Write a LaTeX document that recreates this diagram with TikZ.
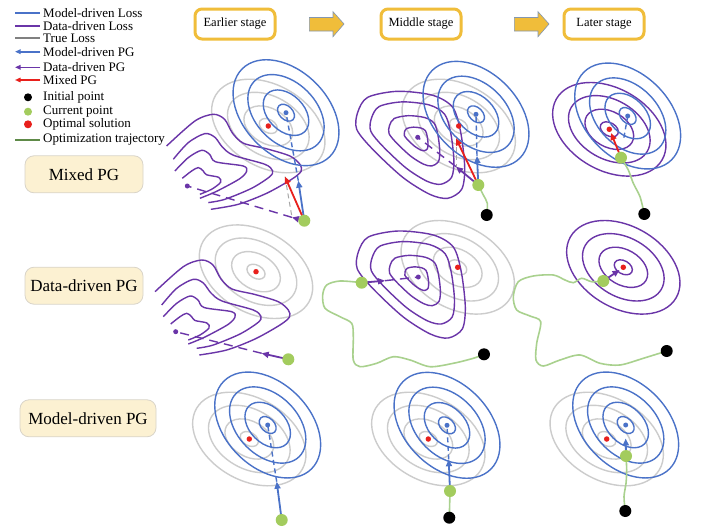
\documentclass[tikz,border=0pt]{standalone}
\usepackage{fontspec}
\setmainfont{Liberation Serif}
\usetikzlibrary{arrows.meta}
\definecolor{mblue}{HTML}{4A72C8}
\definecolor{dpurple}{HTML}{6A35A8}
\definecolor{tgrey}{HTML}{CCCCCC}
\definecolor{lgrey}{HTML}{808080}
\definecolor{ored}{HTML}{E8201C}
\definecolor{cgreen}{HTML}{A3CC5E}
\definecolor{tgreen}{HTML}{A9D18E}
\definecolor{legtraj}{HTML}{5E8A48}
\definecolor{gold}{HTML}{F0BD3A}
\definecolor{cream}{HTML}{FCF1D2}
\definecolor{creamborder}{HTML}{D9D4C8}
\definecolor{arrowedge}{HTML}{8497B0}
\newcommand{\myrings}[5]{%
  \foreach \s in {1,0.72,0.43,0.16}{\draw[#1,shift={#2},rotate=#3] (0,0) ellipse ({#4*\s} and {#5*\s});}}
\newcommand{\purpleearly}{%
  \draw[pu] plot[smooth] coordinates {(155,291.7) (183.3,266.7) (201.7,260) (213,265) (221,279) (232,289) (255,294.5) (278.3,301.7) (288.3,310) (289.5,317) (280,325) (255,339) (226.7,350) (199.3,355)};
  \draw[pu] plot[smooth] coordinates {(161.7,305) (176.7,288.3) (193.3,279.3) (203.3,283) (211,293) (222,301) (253.3,310) (261,316.5) (258,322.5) (240,334) (213.3,345) (196.7,348.3)};
  \draw[pu] plot[smooth] coordinates {(163.3,316.7) (176.7,303.3) (190,296) (198,300) (204,307.5) (231.7,311.7) (235,317) (228,324.5) (205,337) (188.3,344)};
  \draw[pu] plot[smooth] coordinates {(170.7,324) (180,316.7) (186.7,313.3) (191.5,316.5) (195,320.5) (207,323) (209,328) (200,335) (188.3,340)};}
\newcommand{\purpleblob}[1]{%
  \foreach \s in {1,0.77,0.47,0.22}{\draw[pu,shift={#1},scale=\s] plot[smooth cycle] coordinates {(-60,-25) (-50,-40) (-20,-46) (15,-42) (35,-30) (43,-5) (47,30) (44,52) (30,61) (12,57) (-15,40) (-45,12) (-61,-8)};}}
\begin{document}
\begin{tikzpicture}[x=1pt,y=-1pt,
  bl/.style={draw=mblue,line width=1.4pt},
  pu/.style={draw=dpurple,line width=1.4pt},
  gr/.style={draw=tgrey,line width=1.4pt},
  traj/.style={draw=tgreen,line width=1.6pt},
  arr/.style={line width=1.8pt,-{Triangle[length=7pt,width=6pt]}},
  legarr/.style={line width=1.6pt,-{Triangle[length=5.5pt,width=4.5pt]}},
  legline/.style={line width=2pt},
  dsh/.style={dash pattern=on 5pt off 3.5pt},
  pdsh/.style={draw=dpurple,line width=1.4pt,dash pattern=on 9pt off 6pt},
  ini/.style={circle,fill=black,inner sep=0,minimum size=12pt},
  cur/.style={circle,fill=cgreen,inner sep=0,minimum size=12pt},
  opt/.style={circle,fill=ored,inner sep=0,minimum size=5.5pt},
  bdot/.style={circle,fill=mblue,inner sep=0,minimum size=5pt},
  pdot/.style={circle,fill=dpurple,inner sep=0,minimum size=5pt},
  stage/.style={draw=gold,line width=3pt,rounded corners=7pt,minimum width=80pt,minimum height=30pt,fill=white,font=\fontsize{12.5}{14}\selectfont},
  rowlab/.style={draw=creamborder,fill=cream,line width=0.8pt,rounded corners=9pt,minimum width=118pt,minimum height=37pt,font=\fontsize{17}{20}\selectfont},
  legtext/.style={anchor=west,inner sep=0,font=\fontsize{13}{15}\selectfont},
  blockarrow/.style={fill=gold,draw=arrowedge,line width=0.6pt}]
\useasboundingbox (0,0) rectangle (720,530);
\fill[white] (0,0) rectangle (720,530);

% ---------- legend ----------
\foreach \n/\y in {1/12.7,2/25.7,3/38.3,4/51.7,5/67.3,6/80,7/97.3,8/111.7,9/124.3,10/140}{
  \coordinate (lL\n) at (15,\y); \coordinate (lR\n) at (40,\y); \coordinate (lM\n) at (28,\y);}
\draw[legline,draw=mblue] (lL1) -- (lR1);
\draw[legline,draw=dpurple] (lL2) -- (lR2);
\draw[legline,draw=lgrey] (lL3) -- (lR3);
\draw[legarr,draw=mblue,fill=mblue] (lR4) -- (lL4);
\draw[legarr,draw=dpurple,fill=dpurple] (lR5) -- (lL5);
\draw[legarr,draw=ored,fill=ored] (lR6) -- (lL6);
\node[circle,fill=black,inner sep=0,minimum size=8pt] (lp7) at (lM7) {};
\node[circle,fill=cgreen,inner sep=0,minimum size=8pt] (lp8) at (lM8) {};
\node[circle,fill=ored,inner sep=0,minimum size=8pt] (lp9) at (lM9) {};
\draw[legline,draw=legtraj,line width=1.5pt] (lL10) -- (lR10);
\node[legtext] (t1) at (43,12.7) {Model-driven Loss};
\node[legtext] (t2) at (43,25.7) {Data-driven Loss};
\node[legtext] (t3) at (43,38.3) {True Loss};
\node[legtext] (t4) at (43,51.7) {Model-driven PG};
\node[legtext] (t5) at (43,67.3) {Data-driven PG};
\node[legtext] (t6) at (43,80) {Mixed PG};
\node[legtext] (t7) at (43,97.3) {Initial point};
\node[legtext] (t8) at (43,111.7) {Current point};
\node[legtext] (t9) at (43,124.3) {Optimal solution};
\node[legtext] (t10) at (43,140) {Optimization trajectory};

% ---------- header ----------
\node[stage] (s1) at (235,24) {Earlier stage};
\node[stage] (s2) at (421,24) {Middle stage};
\node[stage] (s3) at (604,24) {Later stage};
\foreach \dx in {0,205}{
  \draw[blockarrow,shift={(\dx,0)}] (309.3,17.5) -- (333,17.5) -- (333,11.7) -- (344,24) -- (333,36.7) -- (333,31) -- (309.3,31) -- cycle;}

% ---------- row labels ----------
\node[rowlab] (r1) at (84,174.3) {Mixed PG};
\node[rowlab] (r2) at (84,285.7) {Data-driven PG};
\node[rowlab,minimum width=136pt] (r3) at (88,418.3) {Model-driven PG};

% ================= Mixed PG =================
% earlier
\coordinate (meg) at (304.3,220.7);
\coordinate (meb) at (286,112.7);
\coordinate (mer) at (268.3,126);
\coordinate (mep) at (187.3,186);
\coordinate (mebt) at (298.3,180.7);
\coordinate (mert) at (285,176.7);
\coordinate (mept) at (292,217.4);
\myrings{gr}{(mer)}{-30}{61}{41}
\begin{scope}[shift={(11.6,-145.7)}]\purpleearly\end{scope}
\myrings{bl}{(meb)}{-45}{62}{42}
\draw[bl,dsh] (mebt) -- (meb);
\draw[pdsh] (mept) -- (mep);
\draw[draw=gray!70,line width=1pt,dsh] (mert) -- (mept);
\draw[arr,draw=mblue,fill=mblue] (meg) -- (mebt);
\draw[arr,draw=ored,fill=ored] (meg) -- (mert);
\draw[arr,draw=dpurple,fill=dpurple] (meg) -- (mept);
\node[opt] (MEr) at (mer) {};
\node[bdot] (MEb) at (meb) {};
\node[pdot] (MEp) at (mep) {};
\node[cur] (MEg) at (meg) {};

% middle
\coordinate (mmg) at (478.3,185);
\coordinate (mmk) at (486.7,215);
\coordinate (mmb) at (476,114.3);
\coordinate (mmr) at (458.7,126);
\coordinate (mmp) at (417.7,137.3);
\coordinate (mmbt) at (477,156);
\coordinate (mmrt) at (456,138.3);
\coordinate (mmpt) at (456,166.7);
\myrings{gr}{(mmr)}{-30}{61}{41}
\purpleblob{(mmp)}
\myrings{bl}{(mmb)}{-45}{62}{42}
\draw[traj] plot[smooth] coordinates {(mmk) (487.3,203.3) (483.3,195) (mmg)};
\draw[bl,dsh] (mmbt) -- (mmb);
\draw[pdsh] (mmpt) -- (mmp);
\draw[draw=gray!70,line width=1pt,dsh] (mmrt) -- (mmpt);
\draw[arr,draw=mblue,fill=mblue] (mmg) -- (mmbt);
\draw[arr,draw=ored,fill=ored] (mmg) -- (mmrt);
\draw[arr,draw=dpurple,fill=dpurple] (mmg) -- (mmpt);
\node[opt] (MMr) at (mmr) {};
\node[bdot] (MMb) at (mmb) {};
\node[pdot] (MMp) at (mmp) {};
\node[cur] (MMg) at (mmg) {};
\node[ini] (MMk) at (mmk) {};

% later
\coordinate (mlg) at (621,157.7);
\coordinate (mlk) at (644.3,214);
\coordinate (mlb) at (627.7,116);
\coordinate (mlr) at (609.3,129.3);
\coordinate (mlrt) at (611,133);
\coordinate (mlbd) at (623.5,140);
\myrings{pu}{(mlr)}{-30}{61}{41}
\myrings{bl}{(mlb)}{-45}{62}{42}
\draw[traj] plot[smooth] coordinates {(mlk) (640,196.7) (633.3,183.3) (628.3,170) (mlg)};
\draw[bl,dsh] (mlb) -- (mlbd);
\draw[arr,draw=ored,fill=ored] (mlg) -- (mlrt);
\node[opt] (MLr) at (mlr) {};
\node[bdot] (MLb) at (mlb) {};
\node[cur] (MLg) at (mlg) {};
\node[ini] (MLk) at (mlk) {};

% ================= Data-driven PG =================
% earlier
\coordinate (der) at (256,271.7);
\coordinate (dep) at (175.7,331.7);
\coordinate (deg) at (288.3,359.3);
\coordinate (dept) at (261.7,353.3);
\myrings{gr}{(der)}{-30}{61}{41}
\purpleearly
\draw[pdsh] (dept) -- (dep);
\draw[arr,draw=dpurple,fill=dpurple] (deg) -- (dept);
\node[opt] (DEr) at (der) {};
\node[pdot] (DEp) at (dep) {};
\node[cur] (DEg) at (deg) {};

% middle
\coordinate (dmr) at (457.7,267.3);
\coordinate (dmp) at (418.3,277);
\coordinate (dmg) at (361.7,282.7);
\coordinate (dmk) at (484,354.3);
\coordinate (dmpt) at (385,280.7);
\myrings{gr}{(dmr)}{-30}{61}{41}
\purpleblob{(dmp)}
\draw[traj] plot[smooth] coordinates {(dmk) (473.3,358.3) (453.3,363.3) (430,366.7) (410,360) (393.3,356.7) (376.7,363.3) (360,366.7) (353.3,360) (353.3,336.7) (351.7,323.3) (340,316.7) (325,308.3) (322.7,295) (326.7,285) (340,281) (dmg)};
\draw[pdsh] (dmpt) -- (dmp);
\draw[arr,draw=dpurple,fill=dpurple] (dmg) -- (dmpt);
\node[opt] (DMr) at (dmr) {};
\node[pdot] (DMp) at (dmp) {};
\node[cur] (DMg) at (dmg) {};
\node[ini] (DMk) at (dmk) {};

% later
\coordinate (dlr) at (623.3,267.3);
\coordinate (dlg) at (603.3,281);
\coordinate (dlk) at (666.7,351);
\coordinate (dlpt) at (619.5,270);
\myrings{pu}{(dlr)}{-30}{61}{41}
\draw[traj] plot[smooth] coordinates {(dlk) (643.3,358.3) (620,365) (600,363.3) (580,355) (560,360) (543.3,366) (536,360) (536.7,343.3) (540.7,321.7) (530,316) (516.7,310) (513.3,296.7) (518.3,281.7) (533.3,276) (553.3,275) (565,280) (573.3,282.7) (581.7,278.3) (591.7,281.7) (dlg)};
\draw[arr,draw=dpurple,fill=dpurple] (dlg) -- (dlpt);
\node[opt] (DLr) at (dlr) {};
\node[cur] (DLg) at (dlg) {};
\node[ini] (DLk) at (dlk) {};

% ================= Model-driven PG =================
% earlier
\coordinate (oeb) at (267.7,425);
\coordinate (oer) at (249.3,439);
\coordinate (oeg) at (281.7,520);
\coordinate (oebt) at (276.7,481.7);
\myrings{gr}{(oer)}{-30}{61}{41}
\myrings{bl}{(oeb)}{-45}{62}{42}
\draw[bl,dsh] (oebt) -- (oeb);
\draw[arr,draw=mblue,fill=mblue] (oeg) -- (oebt);
\node[opt] (OEr) at (oer) {};
\node[bdot] (OEb) at (oeb) {};
\node[cur] (OEg) at (oeg) {};

% middle
\coordinate (omb) at (447,425.3);
\coordinate (omr) at (428.3,439);
\coordinate (omg) at (450,491);
\coordinate (omk) at (449.3,517.7);
\coordinate (ombt) at (448.7,459.3);
\myrings{gr}{(omr)}{-30}{61}{41}
\myrings{bl}{(omb)}{-45}{62}{42}
\draw[traj] (omk) -- (omg);
\draw[bl,dsh] (ombt) -- (omb);
\draw[arr,draw=mblue,fill=mblue] (omg) -- (ombt);
\node[opt] (OMr) at (omr) {};
\node[bdot] (OMb) at (omb) {};
\node[cur] (OMg) at (omg) {};
\node[ini] (OMk) at (omk) {};

% later
\coordinate (olb) at (625.7,425);
\coordinate (olr) at (606.7,439);
\coordinate (olg) at (626,456);
\coordinate (olk) at (625.3,511);
\coordinate (olbt) at (625.7,438.5);
\myrings{gr}{(olr)}{-30}{61}{41}
\myrings{bl}{(olb)}{-45}{62}{42}
\draw[traj] plot[smooth] coordinates {(olk) (624,496.7) (626,483.3) (626.7,470) (olg)};
\draw[arr,draw=mblue,fill=mblue] (olg) -- (olbt);
\node[opt] (OLr) at (olr) {};
\node[bdot] (OLb) at (olb) {};
\node[cur] (OLg) at (olg) {};
\node[ini] (OLk) at (olk) {};
\end{tikzpicture}
\end{document}
